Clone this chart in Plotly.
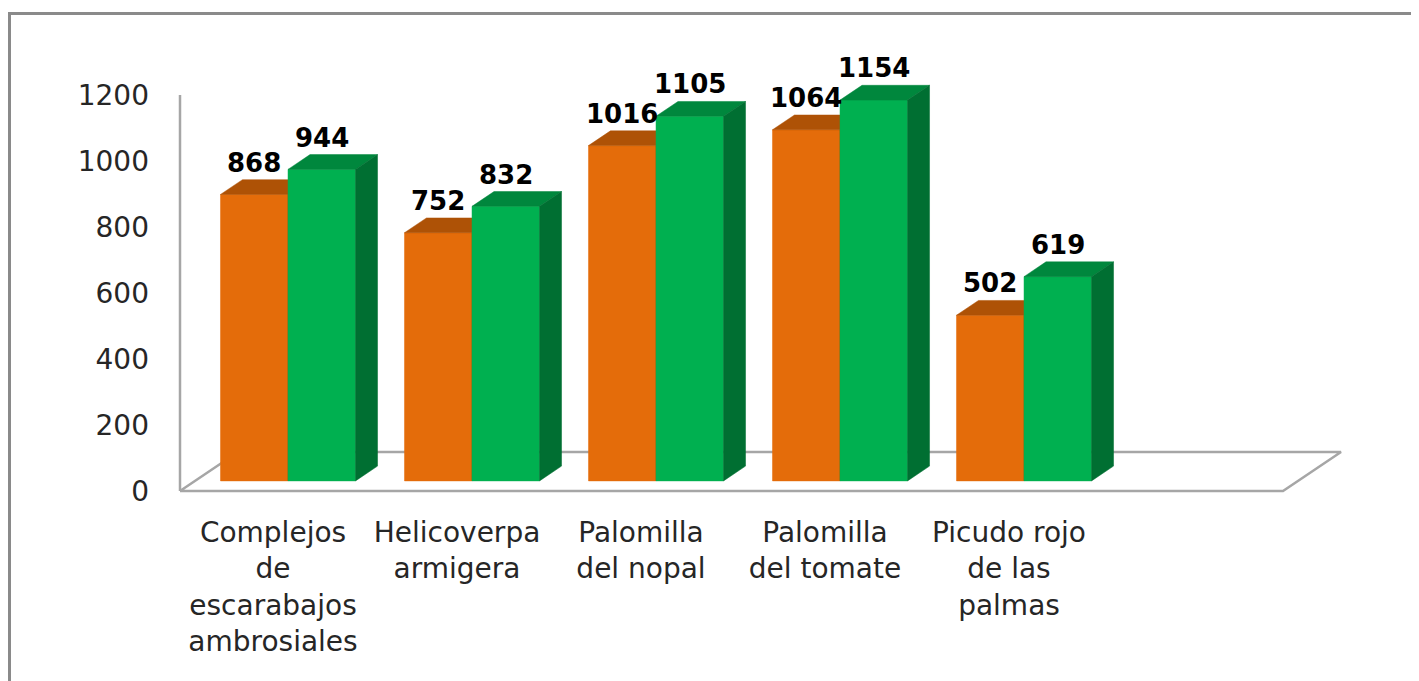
import plotly.graph_objects as go

# ---------------- data ----------------
categories = [
    "Complejos<br>de<br>escarabajos<br>ambrosiales",
    "Helicoverpa<br>armigera",
    "Palomilla<br>del nopal",
    "Palomilla<br>del tomate",
    "Picudo rojo<br>de las<br>palmas",
]
series_orange = [868, 752, 1016, 1064, 502]
series_green = [944, 832, 1105, 1154, 619]
y_ticks = [0, 200, 400, 600, 800, 1000, 1200]

# ---------------- layout geometry (pseudo 3D) ----------------
OFF = 8                       # page body margin
W, H = 1419 - OFF, 681 - OFF  # figure size
PX_CAT = 184.0      # pixels per category
PX_VAL = 0.33       # pixels per value unit
X0_PX = 273.0 - OFF  # pixel x of category 0 at the front of the floor
Y0_PX = 491.0 - OFF  # pixel y of value 0 at the front of the floor
xr = [-X0_PX / PX_CAT, (W - X0_PX) / PX_CAT]
yr = [(Y0_PX - H) / PX_VAL, Y0_PX / PX_VAL]

DX = 58.0 / PX_CAT   # category units per unit of depth
DY = 39.0 / PX_VAL   # value units per unit of depth
D_FRONT, D_BACK = 0.259, 0.638
BW = 0.367           # bar width in category units
FLOOR_L = (180 - OFF - X0_PX) / PX_CAT
FLOOR_R = (1283 - OFF - X0_PX) / PX_CAT


def proj(k, v, d):
    return k + d * DX, v + d * DY


def poly(pts):
    xs = [p[0] for p in pts] + [pts[0][0], None]
    ys = [p[1] for p in pts] + [pts[0][1], None]
    return xs, ys


def faces(values, offset):
    front, top, side = ([], []), ([], []), ([], [])
    for i, v in enumerate(values):
        l = i + offset * BW
        r = l + BW
        for acc, pts in (
            (front, [proj(l, 0, D_FRONT), proj(r, 0, D_FRONT), proj(r, v, D_FRONT), proj(l, v, D_FRONT)]),
            (top, [proj(l, v, D_FRONT), proj(r, v, D_FRONT), proj(r, v, D_BACK), proj(l, v, D_BACK)]),
            (side, [proj(r, 0, D_FRONT), proj(r, 0, D_BACK), proj(r, v, D_BACK), proj(r, v, D_FRONT)]),
        ):
            xs, ys = poly(pts)
            acc[0].extend(xs)
            acc[1].extend(ys)
    return front, top, side


fig = go.Figure()

# floor
fx, fy = poly([proj(FLOOR_L, 0, 0), proj(FLOOR_R, 0, 0), proj(FLOOR_R, 0, 1), proj(FLOOR_L, 0, 1)])
fig.add_trace(go.Scatter(x=fx, y=fy, mode="lines", line=dict(color="#a6a6a6", width=2.5),
                         fill="toself", fillcolor="white", hoverinfo="skip"))
# vertical axis line
fig.add_trace(go.Scatter(x=[FLOOR_L, FLOOR_L], y=[0, y_ticks[-1]], mode="lines",
                         line=dict(color="#a6a6a6", width=2.5), hoverinfo="skip"))

colors = {
    "orange": ("#E46C0A", "#AE5206", "#9A4805"),
    "green": ("#00B050", "#00873D", "#006F32"),
}
for values, offset, key in ((series_orange, -1, "orange"), (series_green, 0, "green")):
    front, top, side = faces(values, offset)
    cf, ct, cs = colors[key]
    for (xs, ys), c in ((front, cf), (top, ct), (side, cs)):
        fig.add_trace(go.Scatter(x=xs, y=ys, mode="lines", line=dict(color=c, width=0.5),
                                 fill="toself", fillcolor=c, hoverinfo="skip"))

# data labels
for values, offset in ((series_orange, -1), (series_green, 0)):
    for i, v in enumerate(values):
        y = proj(0, v, D_BACK)[1]
        x = proj(i + offset * BW + BW / 2, v, D_FRONT)[0]
        fig.add_annotation(x=x, y=y, text=f"<b>{v}</b>", showarrow=False, yanchor="bottom",
                           yshift=0, font=dict(family="DejaVu Sans", size=26, color="black"))

# chart frame
fig.add_shape(type="line", xref="paper", yref="paper", x0=(10 - OFF) / W, x1=1,
              y0=1 - (13.5 - OFF) / H, y1=1 - (13.5 - OFF) / H,
              line=dict(color="#8a8a8a", width=3))
fig.add_shape(type="line", xref="paper", yref="paper", x0=(9.5 - OFF) / W, x1=(9.5 - OFF) / W,
              y0=0, y1=1 - (12 - OFF) / H,
              line=dict(color="#8a8a8a", width=3))

fig.update_layout(
    width=W, height=H, margin=dict(l=0, r=0, t=0, b=0),
    paper_bgcolor="white", plot_bgcolor="white", showlegend=False,
    xaxis=dict(range=xr, anchor="free", position=1 - (513 - OFF) / H, showgrid=False, zeroline=False,
               showline=False, ticks="", tickvals=list(range(len(categories))), ticktext=categories,
               tickfont=dict(family="DejaVu Sans", size=28, color="#262626"), fixedrange=True),
    yaxis=dict(range=yr, anchor="free", position=(149 - OFF) / W, showgrid=False, zeroline=False,
               showline=False, ticks="", tickvals=y_ticks,
               tickfont=dict(family="DejaVu Sans", size=28, color="#262626"), fixedrange=True),
)

fig.write_html("out.html")
